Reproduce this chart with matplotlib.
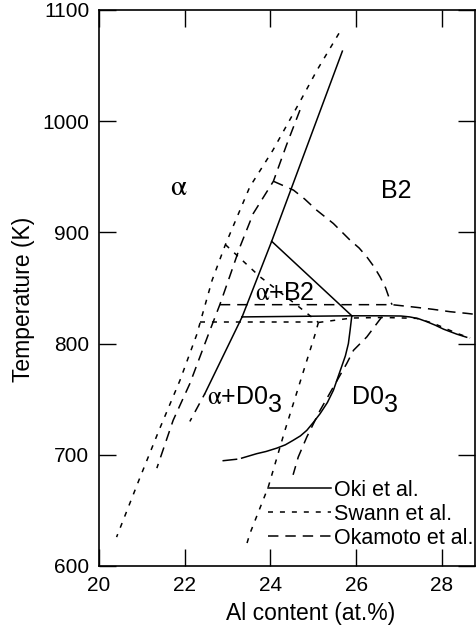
import matplotlib
matplotlib.use("Agg")
import matplotlib.pyplot as plt

plt.rcParams['font.family'] = ['Liberation Sans', 'DejaVu Sans']
plt.rcParams['mathtext.fontset'] = 'stix'
plt.rcParams['lines.scale_dashes'] = False

# Oki et al. (solid)
oki_a2b2_al = [25.68, 24.03, 23.34]
oki_a2b2_t = [1063, 892, 824]
oki_b2_al = [24.03, 25.90]
oki_b2_t = [892, 825]
oki_eut_al = [23.34, 25.90]
oki_eut_t = [824, 825]
oki_ad03_al = [23.34, 22.47]
oki_ad03_t = [824, 755]
oki_ad03_ext_al = [22.47, 22.12]
oki_ad03_ext_t = [755, 730]
oki_b2d03_al = [25.90, 26.60, 27.05, 27.25, 27.45, 27.65, 27.85, 28.04, 28.35, 28.58]
oki_b2d03_t = [825, 825, 824.8, 824, 822.5, 819.7, 816.5, 813, 808.5, 805.7]
oki_d03_al = [25.90, 25.86, 25.82, 25.75, 25.66, 25.47, 25.33, 25.16, 25.00, 24.85,
              24.70, 24.53, 24.35, 24.15, 23.90, 23.68, 23.33]
oki_d03_t = [825, 812, 800, 789, 779, 758, 747, 737, 729, 722,
             717, 713, 709, 706, 703, 701, 697]
oki_d03_ext_al = [23.21, 22.90]
oki_d03_ext_t = [696, 694.7]

# Swann et al. (short dashes)
sw_a_al = [25.60, 25.09, 24.71, 24.06, 23.52, 22.95, 22.64, 22.28, 21.89, 21.40, 20.93, 20.41]
sw_a_t = [1079, 1046, 1019, 974, 941, 889, 857, 808, 767, 722, 677, 626]
sw_b2_al = [22.95, 23.76, 24.57, 25.12]
sw_b2_t = [889, 860, 836, 819]
sw_eut_al = [22.36, 25.12]
sw_eut_t = [819, 819]
sw_b2d03_al = [25.12, 25.90, 26.63, 27.41, 27.80, 28.35, 28.66]
sw_b2d03_t = [819, 823, 823.5, 822.7, 818.3, 809.3, 805]
sw_d03_al = [25.12, 25.04, 24.73, 24.34, 23.95, 23.52, 23.45]
sw_d03_t = [819, 808, 770, 722, 671, 629, 620]

# Okamoto et al. (long dashes)
ok_a_al = [24.69, 24.38, 24.07, 23.60, 23.29, 23.02, 22.82, 22.55, 22.12, 21.73, 21.35]
ok_a_t = [1010, 979, 946, 917, 887, 857, 835, 808, 764, 731, 688]
ok_dome_al = [24.07, 24.54, 24.80, 25.08, 25.47, 25.86, 26.07, 26.25, 26.42, 26.56, 26.69, 26.79, 26.84]
ok_dome_t = [946, 938, 930, 920, 908, 893, 886, 878, 869, 860, 850, 839, 835]
ok_eut_al = [22.82, 26.84, 27.41, 27.80, 28.19, 28.58, 28.8]
ok_eut_t = [835, 835, 832.6, 830.8, 828.7, 827.2, 826.2]
ok_d03_al = [26.60, 26.25, 25.94, 25.78, 25.47, 25.16, 24.85, 24.65, 24.53]
ok_d03_t = [824, 806, 794, 782, 761, 740, 716, 698, 682]

x_ticks = [20, 22, 24, 26, 28]
y_ticks = [600, 700, 800, 900, 1000, 1100]

solid = '-'
short = (0, (3.6, 5.0))
long_ = (0, (7.5, 5.0))
lw = 1.1

fig = plt.figure(figsize=(4.76, 6.28), dpi=100)
ax = fig.add_axes([99 / 476, 62 / 628, 376 / 476, 556 / 628])

oki = ax.plot(oki_a2b2_al, oki_a2b2_t, 'k', ls=solid, lw=lw, label='Oki et al.')[0]
ax.plot(oki_b2_al, oki_b2_t, 'k', ls=solid, lw=lw)
ax.plot(oki_eut_al, oki_eut_t, 'k', ls=solid, lw=lw)
ax.plot(oki_ad03_al, oki_ad03_t, 'k', ls=solid, lw=lw)
ax.plot(oki_ad03_ext_al, oki_ad03_ext_t, 'k', ls=(4, (7, 5)), lw=lw)
ax.plot(oki_b2d03_al, oki_b2d03_t, 'k', ls=solid, lw=lw)
ax.plot(oki_d03_al, oki_d03_t, 'k', ls=solid, lw=lw)
ax.plot(oki_d03_ext_al, oki_d03_ext_t, 'k', ls=solid, lw=lw)

sw = ax.plot(sw_a_al, sw_a_t, 'k', ls=short, lw=lw, label='Swann et al.')[0]
ax.plot(sw_b2_al, sw_b2_t, 'k', ls=short, lw=lw)
ax.plot(sw_eut_al, sw_eut_t, 'k', ls=short, lw=lw)
ax.plot(sw_b2d03_al, sw_b2d03_t, 'k', ls=short, lw=lw)
ax.plot(sw_d03_al, sw_d03_t, 'k', ls=short, lw=lw)

ok = ax.plot(ok_a_al, ok_a_t, 'k', ls=long_, lw=lw, label='Okamoto et al.')[0]
ax.plot(ok_dome_al, ok_dome_t, 'k', ls=long_, lw=lw)
ax.plot(ok_eut_al, ok_eut_t, 'k', ls=long_, lw=lw)
ax.plot(ok_d03_al, ok_d03_t, 'k', ls=long_, lw=lw)

# phase labels
fs = 18
alpha = r'$\mathrm{\alpha}$'
ax.text(21.87, 934, alpha, fontsize=fs + 3, ha='center', va='baseline')
ax.text(26.93, 931, 'B2', fontsize=fs, ha='center', va='baseline')
ax.text(24.34, 839, alpha + '+B2', fontsize=fs, ha='center', va='baseline')
t1 = ax.text(22.52, 746, alpha + '+D0', fontsize=fs, ha='left', va='baseline')
ax.annotate('3', xy=(1, 0), xycoords=t1, xytext=(0, -6), textcoords='offset points',
            fontsize=fs, ha='left', va='bottom')
t2 = ax.text(25.90, 746, 'D0', fontsize=fs, ha='left', va='baseline')
ax.annotate('3', xy=(1, 0), xycoords=t2, xytext=(0, -6), textcoords='offset points',
            fontsize=fs, ha='left', va='bottom')

leg = ax.legend(handles=[oki, sw, ok], loc='center left', bbox_to_anchor=(0.45, 0.093),
                frameon=False, fontsize=15.5, handlelength=2.9, handletextpad=0.15,
                labelspacing=0.15, borderpad=0, borderaxespad=0)

ax.set_xlim(20, 28.775)
ax.set_ylim(600, 1100)
ax.set_xticks(x_ticks)
ax.set_yticks(y_ticks)
ax.tick_params(direction='in', length=12, width=1, top=True, right=True,
               labelsize=15, pad=7)
for s in ax.spines.values():
    s.set_linewidth(1.2)

ax.set_xlabel('Al content (at.%)', fontsize=16.5)
ax.xaxis.set_label_coords(0.5623, -0.064)
ax.set_ylabel('Temperature (K)', fontsize=16.5)
ax.yaxis.set_label_coords(-0.17, 0.48)

fig.savefig('out.png', dpi=100)
